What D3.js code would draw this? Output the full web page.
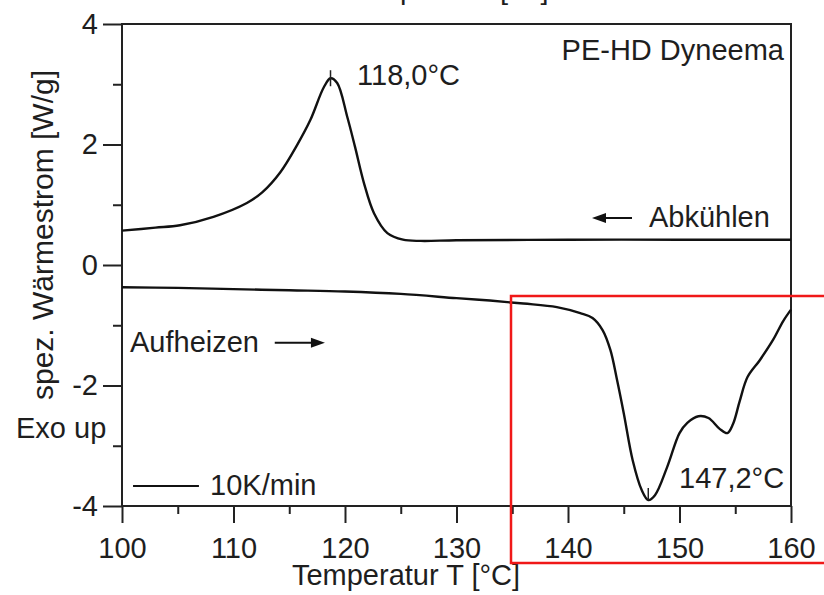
<!DOCTYPE html>
<html>
<head>
<meta charset="utf-8">
<script src="https://cdn.jsdelivr.net/npm/d3@7"></script>
<style>
  body { margin: 0; background: #fff; }
  svg text { font-family: "Liberation Sans", Arial, sans-serif; fill: #1e1e1e; }
</style>
</head>
<body>
<svg id="chart" width="824" height="595"></svg>
<script>
// cooling curve (Abkühlen)
var coolT = [100, 103, 105.2, 108.2, 111.2, 112.6, 114.2, 115.7, 116.9, 118.1, 118.7, 119.3, 120.2, 120.9, 121.7, 122.6, 123.8, 125.2, 126.8, 130, 140, 150, 160];
var coolW = [0.57, 0.62, 0.66, 0.80, 1.03, 1.21, 1.54, 1.99, 2.41, 2.95, 3.10, 3.02, 2.46, 1.96, 1.36, 0.86, 0.53, 0.42, 0.40, 0.41, 0.42, 0.42, 0.42];
// heating curve (Aufheizen)
var heatT = [100, 105, 110, 115, 120, 125, 130, 133, 136, 139, 141.1, 142.2, 143.1, 143.8, 144.4, 145.0, 145.8, 146.6, 147.2, 147.8, 148.9, 150.0, 150.7, 151.7, 152.6, 153.6, 154.3, 154.8, 155.4, 156.1, 157.2, 158.4, 159.3, 160];
var heatW = [-0.37, -0.38, -0.40, -0.42, -0.44, -0.48, -0.55, -0.59, -0.64, -0.70, -0.80, -0.88, -1.08, -1.41, -1.91, -2.46, -3.24, -3.73, -3.90, -3.82, -3.35, -2.79, -2.62, -2.51, -2.54, -2.72, -2.79, -2.64, -2.26, -1.86, -1.58, -1.24, -0.93, -0.74];

var xTicks = [100, 110, 120, 130, 140, 150, 160];
var xMinor = [105, 115, 125, 135, 145, 155];
var yTicks = [-4, -2, 0, 2, 4];
var yMinor = [-3, -1, 1, 3];

var peakCool = [118.7, 3.10];
var peakHeat = [147.2, -3.90];

var svg = d3.select("#chart");
var pLeft = 122, pRight = 791, pTop = 24, pBottom = 506;

var x = d3.scaleLinear().domain([100, 160]).range([pLeft, pRight]);
var y = d3.scaleLinear().domain([-4, 4]).range([pBottom, pTop]);

// axes
var gx = svg.append("g").attr("transform", "translate(0," + pBottom + ")")
  .call(d3.axisBottom(x).tickValues(xTicks).tickSize(17).tickSizeOuter(0).tickPadding(14));
var gxm = svg.append("g").attr("transform", "translate(0," + pBottom + ")")
  .call(d3.axisBottom(x).tickValues(xMinor).tickSize(8).tickFormat(""));
var gy = svg.append("g").attr("transform", "translate(" + pLeft + ",0)")
  .call(d3.axisLeft(y).tickValues(yTicks).tickSize(19).tickSizeOuter(0).tickPadding(5).tickFormat(function(d){ return String(d); }));
var gym = svg.append("g").attr("transform", "translate(" + pLeft + ",0)")
  .call(d3.axisLeft(y).tickValues(yMinor).tickSize(9).tickFormat(""));

[gx, gxm, gy, gym].forEach(function(g){
  g.select(".domain").remove();
  g.selectAll(".tick line").attr("stroke", "#222").attr("stroke-width", 2);
  g.selectAll(".tick text").attr("font-size", 29).attr("fill", "#1e1e1e")
    .style("font-family", "'Liberation Sans', Arial, sans-serif");
});

// frame
svg.append("rect")
  .attr("x", pLeft).attr("y", pTop)
  .attr("width", pRight - pLeft).attr("height", pBottom - pTop)
  .attr("fill", "none").attr("stroke", "#222").attr("stroke-width", 2);

// curves
var line = d3.line().x(function(d){ return x(d[0]); }).y(function(d){ return y(d[1]); })
  .curve(d3.curveCatmullRom.alpha(0.5));

svg.append("path").datum(d3.zip(coolT, coolW))
  .attr("d", line).attr("fill", "none").attr("stroke", "#111").attr("stroke-width", 2.4);
svg.append("path").datum(d3.zip(heatT, heatW))
  .attr("d", line).attr("fill", "none").attr("stroke", "#111").attr("stroke-width", 2.4);

// peak markers
svg.append("line")
  .attr("x1", x(peakCool[0])).attr("x2", x(peakCool[0]))
  .attr("y1", y(peakCool[1]) - 8).attr("y2", y(peakCool[1]) + 8)
  .attr("stroke", "#222").attr("stroke-width", 1.5);
svg.append("line")
  .attr("x1", x(peakHeat[0])).attr("x2", x(peakHeat[0]))
  .attr("y1", y(peakHeat[1]) - 12).attr("y2", y(peakHeat[1]))
  .attr("stroke", "#222").attr("stroke-width", 1.5);

function label(txt, px, py, anchor, size) {
  return svg.append("text").attr("x", px).attr("y", py)
    .attr("text-anchor", anchor || "start")
    .attr("font-size", size || 29).text(txt);
}

function arrow(x1, x2, yy) {
  var dir = x2 > x1 ? 1 : -1;
  svg.append("line").attr("x1", x1).attr("x2", x2 - dir * 10).attr("y1", yy).attr("y2", yy)
    .attr("stroke", "#111").attr("stroke-width", 2);
  svg.append("path")
    .attr("d", "M" + x2 + "," + yy + "L" + (x2 - dir * 14) + "," + (yy - 5) + "L" + (x2 - dir * 14) + "," + (yy + 5) + "Z")
    .attr("fill", "#111");
}

// annotations
label("118,0°C", x(121.08), y(2.99));
label("PE-HD Dyneema", x(159.37), y(3.40), "end");
label("Abkühlen", x(147.26), y(0.63));
arrow(x(145.74), x(142.15), y(0.78));
label("Aufheizen", x(100.72), y(-1.44));
arrow(x(113.7), x(118.2), y(-1.29));
svg.append("line").attr("x1", x(100.99)).attr("x2", x(106.9))
  .attr("y1", y(-3.67)).attr("y2", y(-3.67)).attr("stroke", "#111").attr("stroke-width", 2);
label("10K/min", x(107.9), y(-3.82));
label("147,2°C", x(149.96), y(-3.70));

// axis titles
label("Temperatur T [°C]", 406, 585, "middle");
label("Temperatur [°C]", 447, -1, "middle");
svg.append("text").attr("transform", "translate(53,235) rotate(-90)")
  .attr("text-anchor", "middle").attr("font-size", 30).text("spez. Wärmestrom [W/g]");
label("Exo up", 16, 438);

// red highlight box
svg.append("rect")
  .attr("x", 511).attr("y", 296).attr("width", 330).attr("height", 267)
  .attr("fill", "none").attr("stroke", "#f01818").attr("stroke-width", 2.5);
</script>
</body>
</html>
